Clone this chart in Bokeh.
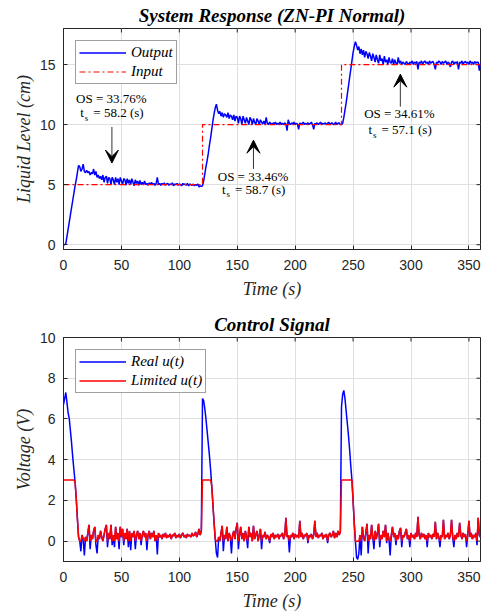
import numpy as np
from bokeh.plotting import figure
from bokeh.models import (Range1d, FixedTicker, Legend, LegendItem, Label, Arrow, VeeHead)
from bokeh.layouts import column
from bokeh.embed import file_html
from bokeh.resources import INLINE

# ---------------- data ----------------
T_STEP = 1.0  # sample period (s)

level_out = [
    0, 0, 0.1, 0.7, 1.3, 1.9, 2.5, 3.1, 3.7, 4.3,
    4.9, 5.4, 6.0, 6.6, 6.5, 6.1, 6.3, 6.7, 6.1, 6.0,
    6.2, 6.0, 6.1, 5.8, 6.0, 5.9, 6.3, 5.8, 6.1, 5.6,
    5.8, 5.5, 5.7, 5.4, 5.8, 5.2, 5.6, 5.7, 5.1, 5.6,
    5.5, 5.0, 5.6, 5.4, 5.0, 5.6, 5.2, 5.5, 5.0, 5.6,
    5.3, 5.0, 5.5, 5.4, 4.95, 5.5, 5.1, 5.4, 5.0, 5.5,
    5.2, 4.9, 5.4, 5.1, 5.3, 4.95, 5.35, 5.0, 5.2, 5.0,
    5.3, 5.0, 5.1, 4.95, 5.15, 5.0, 5.2, 5.0, 5.1, 4.95,
    5.1, 5.6, 5.0, 5.1, 4.95, 5.1, 5.0, 5.15, 4.95, 5.05,
    5.1, 4.95, 5.05, 5.0, 5.15, 4.9, 5.05, 5.0, 5.1, 4.95,
    5.05, 5.0, 4.9, 5.1, 5.0, 5.05, 4.95, 5.1, 4.9, 5.05,
    5.0, 4.95, 5.05, 4.9, 5.0, 4.95, 5.05, 4.8, 4.9, 4.85,
    4.9, 5.3, 5.9, 6.5, 7.0, 7.6, 8.3, 8.9, 9.6, 10.3,
    10.9, 11.4, 11.7, 11.2, 10.9, 11.1, 10.7, 11.0, 10.6, 10.9,
    10.8, 10.6, 11.0, 10.5, 10.8, 10.7, 10.4, 10.8, 10.3, 10.7,
    10.6, 10.1, 10.7, 10.5, 10.0, 10.7, 10.4, 10.1, 10.6, 10.3,
    10.0, 10.6, 10.4, 10.0, 10.5, 10.2, 10.0, 10.5, 10.3, 10.0,
    10.4, 10.2, 10.05, 10.3, 10.0, 10.6, 10.1, 10.0, 10.2, 10.1,
    10.0, 10.15, 10.05, 10.2, 10.0, 10.1, 10.05, 10.2, 10.0, 10.1,
    10.0, 10.15, 10.05, 9.5, 10.4, 10.1, 10.0, 10.15, 10.05, 10.2,
    10.0, 10.1, 10.05, 9.6, 10.15, 10.0, 10.1, 10.2, 10.0, 10.1,
    10.05, 10.15, 10.0, 10.1, 10.2, 10.0, 9.6, 10.1, 10.05, 10.15,
    10.0, 10.1, 10.2, 10.0, 10.1, 10.05, 10.15, 10.0, 10.1, 10.2,
    10.0, 10.1, 10.15, 10.0, 10.05, 10.2, 10.0, 10.1, 10.15, 10.0,
    10.0, 10.1, 10.6, 11.2, 11.8, 12.5, 13.2, 13.9, 14.6, 15.3,
    16.0, 16.5, 16.9, 16.6, 16.2, 16.5, 15.9, 16.3, 15.8, 16.2,
    15.6, 16.1, 15.9, 15.5, 16.0, 15.7, 15.3, 15.9, 15.6, 15.2,
    15.8, 15.4, 15.1, 15.8, 15.3, 15.5, 15.0, 15.7, 15.2, 15.4,
    15.0, 15.6, 15.2, 15.1, 15.5, 15.0, 15.4, 15.1, 15.0, 15.6,
    15.1, 15.3, 15.0, 15.2, 15.1, 15.0, 15.25, 15.1, 15.0, 15.2,
    15.1, 15.3, 15.0, 15.2, 15.1, 15.25, 14.6, 15.2, 15.1, 15.3,
    15.0, 15.2, 15.3, 15.1, 15.2, 15.0, 15.3, 15.1, 15.2, 15.25,
    15.0, 14.6, 15.2, 15.1, 15.3, 15.2, 15.0, 15.25, 15.1, 15.2,
    15.3, 15.0, 15.2, 15.1, 14.8, 15.2, 15.3, 15.0, 15.2, 15.1,
    15.25, 14.6, 15.2, 15.1, 15.3, 15.0, 15.2, 15.25, 15.1, 15.2,
    15.0, 15.3, 15.1, 15.2, 15.0, 15.25, 15.1, 15.2, 15.2, 14.5,
    15.1,
]

u_real = [
    6.7, 7.0, 7.3, 6.8, 6.3, 6.0, 5.4, 4.8, 4.1, 3.5,
    2.9, 2.1, 1.1, 0.2, 0.0, -0.5, 0.3, 0.1, -0.7, 0.2,
    0.0, 0.4, 0.8, -0.4, 0.3, 0.1, 0.5, 0.7, -0.2, -0.6,
    0.3, 0.1, 0.5, 0.2, 0.0, 0.3, 0.6, 0.8, -0.3, 0.4,
    0.1, 0.8, -0.2, 0.3, -0.3, 0.7, 0.1, 0.4, -0.4, 0.7,
    0.2, 0.6, -0.2, 0.4, 0.1, 0.6, -0.3, 0.5, -0.45, 0.4,
    0.2, 0.5, -0.4, 0.3, 0.5, 0.1, 0.4, -0.2, 0.3, 0.5,
    0.2, 0.4, -0.45, 0.3, 0.5, 0.1, 0.4, 0.2, 0.5, 0.0,
    0.3, -0.65, 0.4, 0.2, 0.3, 0.1, 0.35, 0.2, 0.4, 0.15,
    0.3, 0.2, 0.35, 0.1, 0.3, 0.25, 0.4, 0.15, 0.3, 0.2,
    0.35, 0.15, 0.3, 0.4, 0.2, 0.3, 0.15, 0.35, 0.25, 0.3,
    0.2, 0.4, 0.25, 0.3, 0.45, 0.2, 0.35, 0.6, 0.3, 0.5,
    7.0, 6.9, 6.5, 6.0, 5.4, 4.8, 4.2, 3.5, 2.7, 1.8,
    0.9, 0.1, -0.6, -0.8, 0.2, 0.0, 0.4, 0.75, -0.5, 0.3,
    0.1, 0.7, 0.0, 0.4, 0.2, -0.6, 0.3, 0.5, 0.1, 0.6,
    0.9, -0.4, 0.3, 0.7, 0.1, 0.4, 0.0, 0.5, 0.2, -0.35,
    0.7, 0.2, 0.4, 0.0, 0.75, 0.1, 0.3, 0.5, 0.0, 0.3,
    0.6, -0.4, 0.3, 0.2, 0.45, 0.1, 0.3, 0.2, -0.1, 0.35,
    0.2, 0.4, 0.1, 0.3, 0.2, 0.35, 0.1, 0.3, 0.25, 0.4,
    0.1, 0.3, 1.15, 0.2, 0.3, -0.55, 0.3, 0.2, 0.4, 0.1,
    0.35, 0.2, 0.3, 0.15, 1.0, 0.2, 0.4, 0.1, 0.3, 0.25,
    0.4, -0.1, 0.3, 0.2, 0.35, 0.1, 0.3, 1.0, 0.2, 0.4,
    0.15, 0.3, 0.25, 0.4, 0.1, 0.3, 0.2, 0.35, -0.1, 0.3,
    0.4, 0.2, 0.3, 0.5, 0.15, 0.4, 0.2, 0.5, 0.3, 0.45,
    6.6, 7.2, 7.4, 7.0, 6.4, 5.8, 5.2, 4.5, 3.7, 3.0,
    2.0, 0.9, 0.0, -0.8, -0.9, -0.6, 0.3, -0.7, 0.7, 0.2,
    0.0, 0.4, 0.85, -0.6, 0.3, 0.1, 0.8, 0.2, -0.4, 0.5,
    0.1, 0.4, 0.85, -0.3, 0.3, 0.1, 0.5, 0.2, 0.8, -0.1,
    0.4, 0.1, -0.7, 0.3, 0.7, 0.2, 0.4, -0.2, 0.3, 0.1,
    0.5, 0.65, -0.3, 0.3, 0.2, 0.4, 0.6, 0.1, 0.3, -0.3,
    0.4, 0.2, 0.3, 0.1, 0.4, 0.2, 1.2, 0.3, 0.1, 0.4,
    0.2, 0.35, 0.1, 0.3, -0.3, 0.4, 0.2, 0.3, 0.1, 0.35,
    0.2, 0.95, 0.1, 0.4, 0.2, -0.3, 0.3, 0.2, 1.05, 0.1,
    0.3, 0.2, 0.4, 0.1, 0.3, 1.05, 0.2, -0.3, 0.3, 0.1,
    0.4, 0.2, 0.9, 0.3, 0.1, 0.4, 0.2, 0.35, -0.3, 0.3,
    1.0, 0.2, 0.4, 0.1, 0.3, 0.2, 0.4, -0.2, 1.15, 0.3,
    0.2,
]

input_t = [0, 120, 120, 240, 240, 360]
input_lvl = [5, 5, 10, 10, 15, 15]

U_MIN, U_MAX = 0.0, 3.0  # actuator saturation limits

X_MIN, X_MAX = 0, 360
X_TICKS = [0, 50, 100, 150, 200, 250, 300, 350]
Y1_TICKS = [0, 5, 10, 15]
Y2_TICKS = [0, 2, 4, 6, 8, 10]

os_texts = ["OS = 33.76%", "OS = 33.46%", "OS = 34.61%"]
ts_texts = ["= 58.2 (s)", "= 58.7 (s)", "= 57.1 (s)"]
ann_x = [41.3, 163.6, 290.0]
ann_os_y = [12.2, 5.7, 10.9]
ann_ts_y = [11.0, 4.6, 9.55]
arrow_x = [41.8, 164.0, 290.8]
arrow_y0 = [9.8, 6.3, 11.5]
arrow_y1 = [6.8, 8.7, 14.2]

# ---------------- derived ----------------
t = np.arange(len(level_out)) * T_STEP
t_u = np.arange(len(u_real)) * T_STEP
u_lim = np.clip(np.array(u_real), U_MIN, U_MAX)

SERIF = "Liberation Serif"
SANS = "Liberation Sans"
DARK = "#262626"
GRID = "#dfdfdf"


def make_fig(title, height, ymin, ymax, yticks, ylabel, top_border, bottom_border):
    p = figure(width=488, height=height, output_backend="svg", toolbar_location=None,
               x_range=Range1d(X_MIN, X_MAX), y_range=Range1d(ymin, ymax),
               min_border_left=63, min_border_right=8,
               min_border_top=top_border, min_border_bottom=bottom_border)
    p.title.text = title
    p.title.text_font = SERIF
    p.title.text_font_style = "bold italic"
    p.title.text_font_size = "19px"
    p.title.align = "center"
    p.title.text_color = "black"
    p.title.standoff = 5
    p.outline_line_color = DARK
    p.outline_line_width = 1
    p.outline_line_alpha = 1
    p.background_fill_color = "white"
    p.border_fill_color = "white"

    p.xaxis.ticker = FixedTicker(ticks=X_TICKS)
    p.yaxis.ticker = FixedTicker(ticks=yticks)
    p.xaxis.axis_label = "Time (s)"
    p.yaxis.axis_label = ylabel
    for ax in (p.xaxis[0], p.yaxis[0]):
        ax.axis_label_text_font = SERIF
        ax.axis_label_text_font_style = "italic"
        ax.axis_label_text_font_size = "18px"
        ax.axis_label_text_color = DARK
        ax.major_label_text_font = SANS
        ax.major_label_text_font_size = "14px"
        ax.major_label_text_color = DARK
        ax.major_tick_in = 4
        ax.major_tick_out = 0
        ax.minor_tick_line_color = None
        ax.axis_line_color = DARK
        ax.major_tick_line_color = DARK
    p.xaxis.major_label_standoff = 10
    p.xaxis.axis_label_standoff = 6
    p.yaxis.major_label_standoff = 8
    p.yaxis.axis_label_standoff = 3

    # mirrored inward ticks on the top and right edges of the box
    p.ray(x=X_TICKS, y=[ymax] * len(X_TICKS), length=4, length_units="screen",
          angle=-np.pi / 2, line_color=DARK, line_width=1)
    p.ray(x=[X_MAX] * len(yticks), y=yticks, length=4, length_units="screen",
          angle=np.pi, line_color=DARK, line_width=1)

    p.xgrid.grid_line_color = GRID
    p.ygrid.grid_line_color = GRID
    p.xgrid.grid_line_width = 1
    p.ygrid.grid_line_width = 1
    return p


def style_legend(p, items):
    leg = Legend(items=items, location="top_left")
    leg.label_text_font = SERIF
    leg.label_text_font_style = "italic"
    leg.label_text_font_size = "15px"
    leg.label_text_color = "black"
    leg.glyph_width = 47
    leg.glyph_height = 17
    leg.label_height = 17
    leg.spacing = 2
    leg.padding = 3
    leg.margin = 12
    leg.label_standoff = 5
    leg.border_line_color = "#404040"
    leg.border_line_width = 1
    leg.background_fill_color = "white"
    leg.background_fill_alpha = 1
    p.add_layout(leg)


# ---------------- top: system response ----------------
p1 = make_fig("System Response (ZN-PI Normal)", 305, -0.4, 18, Y1_TICKS,
              "Liquid Level (cm)", 26, 56)
r_out = p1.line(t, level_out, line_color="blue", line_width=1.5)
r_in = p1.line(input_t, input_lvl, line_color="red", line_width=1.2, line_dash="6 3 2 3")
style_legend(p1, [LegendItem(label="Output", renderers=[r_out]),
                  LegendItem(label="Input", renderers=[r_in])])

for i in range(len(os_texts)):
    p1.add_layout(Label(x=ann_x[i], y=ann_os_y[i], text=os_texts[i], text_align="center",
                        text_baseline="middle", text_font=SERIF, text_font_size="13px",
                        text_color="black"))
    p1.add_layout(Label(x=ann_x[i], y=ann_ts_y[i], x_offset=-31, text="t", text_align="left",
                        text_baseline="middle", text_font=SERIF, text_font_size="13px",
                        text_color="black"))
    p1.add_layout(Label(x=ann_x[i], y=ann_ts_y[i], x_offset=-26.5, y_offset=-5, text="s",
                        text_align="left", text_baseline="middle", text_font=SERIF,
                        text_font_size="9px", text_color="black"))
    p1.add_layout(Label(x=ann_x[i], y=ann_ts_y[i], x_offset=-18, text=ts_texts[i],
                        text_align="left", text_baseline="middle", text_font=SERIF,
                        text_font_size="13px", text_color="black"))
    p1.add_layout(Arrow(x_start=arrow_x[i], y_start=arrow_y0[i], x_end=arrow_x[i],
                        y_end=arrow_y1[i], line_color="#333333", line_width=1,
                        end=VeeHead(size=13, fill_color="black", line_color="black",
                                    line_width=1)))

# ---------------- bottom: control signal ----------------
p2 = make_fig("Control Signal", 311, -1, 10, Y2_TICKS, "Voltage (V)", 32, 55)
r_real = p2.line(t_u, u_real, line_color="blue", line_width=1.5)
r_lim = p2.line(t_u, u_lim, line_color="red", line_width=1.5)
style_legend(p2, [LegendItem(label="Real u(t)", renderers=[r_real]),
                  LegendItem(label="Limited u(t)", renderers=[r_lim])])

layout = column(p1, p2)
open("out.html", "w").write(file_html(layout, INLINE))
